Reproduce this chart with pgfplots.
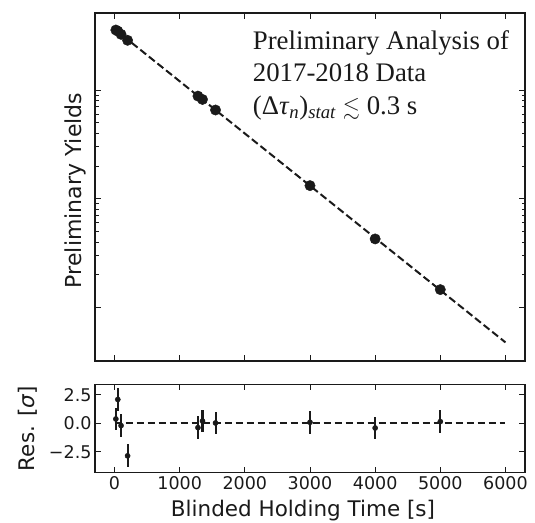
\documentclass[border=0pt]{standalone}
\usepackage{amssymb}
\usepackage{pgfplots}
\usepackage{pgfplotstable}
\pgfplotsset{compat=1.18}
\usepackage{fontspec}
\setmainfont{DejaVu Sans}
\newfontfamily\tnr{Liberation Serif}
\definecolor{ink}{HTML}{1A1A1A}

\pgfplotstableread{
t y
20 35600
50 34770
100 32490
200 28630
1280 8788
1350 8184
1550 6546
3000 1320
4000 427
5000 146
}\yields

\pgfplotstableread{
t r e
20 0.38 1
50 2.09 1
100 -0.20 1
200 -2.85 1
1280 -0.38 1
1350 0.20 1
1550 0.03 1
3000 0.09 1
4000 -0.41 1
5000 0.15 1
}\resid

\begin{document}
\begin{tikzpicture}
\path[use as bounding box] (0pt,0pt) rectangle (535pt,522pt);
\begin{axis}[
  at={(95pt,161pt)}, anchor=south west, scale only axis,
  width=430pt, height=348pt,
  ymode=log,
  xmin=-300, xmax=6300, ymin=32.2, ymax=51050,
  xtick={0,1000,...,6000}, xticklabels={},
  ytick={100,1000,10000}, yticklabels={},
  major tick length=6pt, minor tick length=3.5pt,
  tick style={line width=0.9pt, ink},
  axis line style={line width=1.3pt, ink},
  ylabel={Preliminary Yields},
  ylabel style={at={(axis description cs:-0.0447,0.49)}, anchor=center, font=\fontsize{22}{26}\selectfont, ink},
]
\addplot[ink, line width=2pt, dash pattern=on 7.5pt off 3.5pt] coordinates {(0,36330) (6000,47.75)};
\addplot[only marks, mark=*, mark size=5.2pt, ink] table[x=t, y=y]{\yields};
\end{axis}
\begin{axis}[
  at={(95pt,49.4pt)}, anchor=south west, scale only axis,
  width=430pt, height=88.3pt,
  xmin=-300, xmax=6300, ymin=-4.32, ymax=3.42,
  xtick={0,1000,...,6000}, xticklabels={0,1000,2000,3000,4000,5000,6000},
  ytick={-2.5,0,2.5}, yticklabels={−2.5,0.0,2.5},
  major tick length=6pt,
  tick style={line width=0.9pt, ink},
  axis line style={line width=1.3pt, ink},
  tick label style={font=\fontsize{17.5}{20}\selectfont, ink},
  xlabel={Blinded Holding Time [s]},
  xlabel style={at={(axis description cs:0.4837,-0.4994)}, anchor=base, font=\fontsize{21.5}{26}\selectfont, ink},
  ylabel={Res. [\textit{σ}]},
  ylabel style={at={(axis description cs:-0.156,0.5)}, anchor=center, font=\fontsize{21.5}{26}\selectfont, ink},
]
\addplot[ink, line width=2pt, dash pattern=on 7.5pt off 3.5pt] coordinates {(0,0) (6000,0)};
\addplot[only marks, mark=*, mark size=2.6pt, ink,
  error bars/.cd, y dir=both, y explicit, error mark=none,
  error bar style={line width=2pt, ink}]
  table[x=t, y=r, y error=e]{\resid};
\end{axis}
\begin{scope}[font=\tnr\fontsize{26.8}{32.5}\selectfont, ink]
\node[anchor=base west, inner sep=0pt] at (252.7pt,472.7pt) {Preliminary Analysis of};
\node[anchor=base west, inner sep=0pt] at (252.7pt,440pt) {2017-2018 Data};
\node[anchor=base west, inner sep=0pt] at (252.7pt,407.7pt) {(Δ\textit{τ}\textsubscript{\textit{n}})\textsubscript{\textit{stat}} {\fontsize{22}{22}\selectfont$\lesssim$} 0.3 s};
\end{scope}
\end{tikzpicture}
\end{document}
